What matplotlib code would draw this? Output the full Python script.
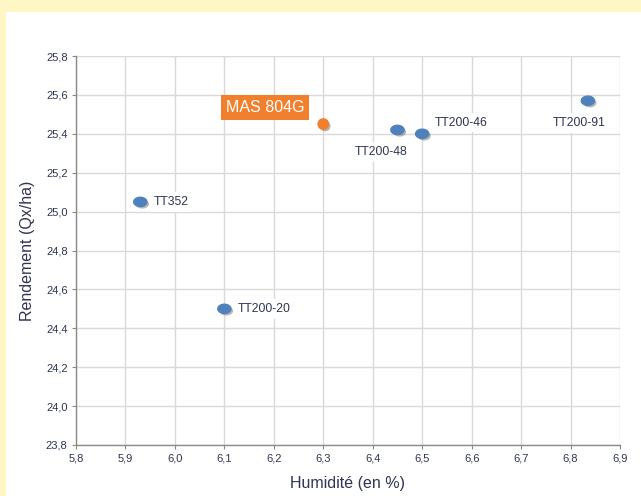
import numpy as np
import matplotlib.pyplot as plt
import matplotlib.patheffects as pe
from matplotlib.patches import Rectangle
from matplotlib.path import Path

plt.rcParams['font.family'] = ['Liberation Sans', 'DejaVu Sans']

# Data
varietes = ['TT352', 'TT200-20', 'TT200-48', 'TT200-46', 'TT200-91']
humidite = [5.93, 6.10, 6.45, 6.50, 6.835]
rendement = [25.05, 24.50, 25.42, 25.40, 25.57]

ref_nom = 'MAS 804G'
ref_humidite = 6.30
ref_rendement = 25.45

x_ticks = [5.8, 5.9, 6.0, 6.1, 6.2, 6.3, 6.4, 6.5, 6.6, 6.7, 6.8, 6.9]
y_ticks = [23.8, 24.0, 24.2, 24.4, 24.6, 24.8, 25.0, 25.2, 25.4, 25.6, 25.8]

# label offsets in points (dx, dy, ha)
offsets = {
    'TT352': (10, 0, 'left'),
    'TT200-20': (10, 0, 'left'),
    'TT200-48': (-12, -16, 'center'),
    'TT200-46': (9, 8, 'left'),
    'TT200-91': (-6, -16, 'center'),
}

text_col = '#2f3553'
blue = '#4f81bd'
orange = '#f0802e'

fig = plt.figure(figsize=(6.41, 4.96), dpi=100)
fig.patch.set_facecolor('#fff6c6')
fig.patches.append(Rectangle((6 / 641, 0), 1, 1 - 12 / 496, transform=fig.transFigure,
                             facecolor='white', edgecolor='none', zorder=-1))

ax = fig.add_axes([76 / 641, 51 / 496, 544 / 641, 389 / 496])
ax.set_facecolor('white')

# ellipse marker
t = np.linspace(0, 2 * np.pi, 40)
ell = Path(np.column_stack([np.cos(t), 0.7 * np.sin(t)]), closed=True)

shadow = [pe.SimplePatchShadow(offset=(1.5, -1.5), shadow_rgbFace='#606060', alpha=0.45), pe.Normal()]

ax.plot(humidite, rendement, ls='none', marker=ell, ms=9.5, mfc=blue, mec=blue,
        path_effects=shadow, zorder=3, clip_on=False)
ax.plot([ref_humidite], [ref_rendement], ls='none', marker='o', ms=7.5, mfc=orange, mec=orange,
        path_effects=shadow, zorder=3)

for nom, x, y in zip(varietes, humidite, rendement):
    dx, dy, ha = offsets[nom]
    ax.annotate(nom, (x, y), xytext=(dx, dy), textcoords='offset points', ha=ha, va='center',
                fontsize=8.8, color=text_col, zorder=4,
                bbox=dict(boxstyle='square,pad=0.3', fc='white', ec='none'))

ax.annotate(ref_nom, (ref_humidite, ref_rendement), xytext=(-42, 12), textcoords='offset points',
            ha='center', va='center', fontsize=11.5, color='white', zorder=4,
            bbox=dict(boxstyle='square,pad=0.3', fc=orange, ec='none'))

ax.set_xlim(5.8, 6.9)
ax.set_ylim(23.8, 25.8)
ax.set_xticks(x_ticks)
ax.set_yticks(y_ticks)
ax.set_xticklabels([f'{v:.1f}'.replace('.', ',') for v in x_ticks],
                   family=['Liberation Sans Narrow', 'Liberation Sans'])
ax.set_yticklabels([f'{v:.1f}'.replace('.', ',') for v in y_ticks],
                   family=['Liberation Sans Narrow', 'Liberation Sans'])
ax.tick_params(labelsize=8, colors='#8a8a8a', labelcolor=text_col, length=3, width=0.8, pad=3)
ax.grid(True, color='#d9d9d9', lw=1)
ax.set_axisbelow(True)
for s in ['top', 'right']:
    ax.spines[s].set_visible(False)
for s in ['left', 'bottom']:
    ax.spines[s].set_color('#8a8a8a')
    ax.spines[s].set_linewidth(1)

ax.set_xlabel('Humidité (en %)', fontsize=11.5, color=text_col, labelpad=9)
ax.set_ylabel('Rendement (Qx/ha)', fontsize=11.5, color=text_col, labelpad=8)

fig.savefig('out.png', dpi=100, facecolor=fig.get_facecolor())
